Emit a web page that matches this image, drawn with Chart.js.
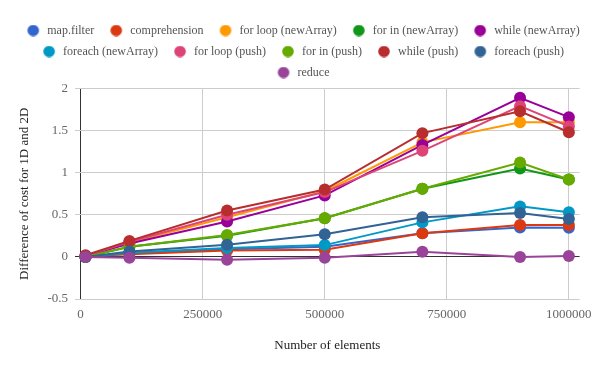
<!DOCTYPE html>
<html>
<head>
<meta charset="utf-8">
<script src="https://cdn.jsdelivr.net/npm/chart.js@4"></script>
<style>
  body { margin: 0; background: #fff; }
  #wrap { width: 600px; height: 371px; }
</style>
</head>
<body>
<div id="wrap"><canvas id="costChart" width="600" height="371"></canvas></div>
<script>
// Valores
const elements = [10000, 100000, 300000, 500000, 700000, 900000, 1000000];
const xTicks = [0, 250000, 500000, 750000, 1000000];

const mapFilter     = [0.00, 0.04, 0.09, 0.12, 0.28, 0.35, 0.345];
const comprehension = [0.01, 0.03, 0.075, 0.085, 0.28, 0.38, 0.38];
const forLoopNew    = [0.01, 0.17, 0.47, 0.78, 1.36, 1.60, 1.60];
const forInNew      = [0.00, 0.12, 0.25, 0.46, 0.81, 1.05, 0.92];
const whileNew      = [0.01, 0.16, 0.42, 0.73, 1.33, 1.89, 1.66];
const foreachNew    = [0.00, 0.05, 0.105, 0.14, 0.41, 0.60, 0.53];
const forLoopPush   = [0.01, 0.18, 0.50, 0.77, 1.26, 1.79, 1.55];
const forInPush     = [0.00, 0.12, 0.26, 0.46, 0.81, 1.12, 0.92];
const whilePush     = [0.02, 0.19, 0.55, 0.80, 1.47, 1.73, 1.48];
const foreachPush   = [0.00, 0.065, 0.145, 0.27, 0.47, 0.52, 0.45];
const reduceVals    = [0.00, -0.01, -0.035, -0.01, 0.06, 0.00, 0.01];

const seriesNames = ['map.filter', 'comprehension', 'for loop (newArray)', 'for in (newArray)', 'while (newArray)',
  'foreach (newArray)', 'for loop (push)', 'for in (push)', 'while (push)', 'foreach (push)', 'reduce'];
const seriesValues = [mapFilter, comprehension, forLoopNew, forInNew, whileNew,
  foreachNew, forLoopPush, forInPush, whilePush, foreachPush, reduceVals];
const colors = ['#3366cc', '#dc3912', '#ff9900', '#109618', '#990099',
  '#0099c6', '#dd4477', '#66aa00', '#b82e2e', '#316395', '#994499'];

const serif = "'Liberation Serif', 'Times New Roman', serif";

// bolinha da legenda (circulo deslocado para a direita do box)
function legendDot(color) {
    const c = document.createElement('canvas');
    c.width = 21; c.height = 12;
    const g = c.getContext('2d');
    g.fillStyle = color;
    g.beginPath();
    g.arc(13, 6, 5.8, 0, Math.PI * 2);
    g.fill();
    return c;
}
const dots = colors.map(legendDot);

// a legenda usa a largura toda do canvas (quebra e centralização)
const wideLegend = {
    id: 'wideLegend',
    beforeInit(chart) {
        const legend = chart.legend;
        const update = legend.update.bind(legend);
        legend.update = (w, h, margins) => update(chart.width, h, margins);
    },
    afterLayout(chart) {
        const legend = chart.legend;
        legend.left = 0;
        legend.right = chart.width;
        legend.width = chart.width;
    }
};

const datasets = seriesNames.map((name, i) => ({
    label: name,
    data: elements.map((x, j) => ({ x: x, y: seriesValues[i][j] })),
    borderColor: colors[i],
    backgroundColor: colors[i],
    borderWidth: 2,
    pointRadius: 6,
    pointHoverRadius: 6,
    pointBorderWidth: 0,
    tension: 0,
    order: -i
}));

const zeroColor = ctx => (ctx.tick && ctx.tick.value === 0) ? '#333' : '#ccc';

new Chart(document.getElementById('costChart'), {
    type: 'line',
    data: { datasets: datasets },
    plugins: [wideLegend],
    options: {
        responsive: false,
        animation: false,
        layout: { padding: { top: 15.5, right: 18, left: 0, bottom: 0 } },
        plugins: {
            legend: {
                position: 'top',
                labels: {
                    usePointStyle: true,
                    pointStyleWidth: 21,
                    boxHeight: 12,
                    padding: 9,
                    color: '#555',
                    font: { family: serif, size: 12 },
                    sort: (a, b) => a.datasetIndex - b.datasetIndex,
                    generateLabels(chart) {
                        const items = Chart.defaults.plugins.legend.labels.generateLabels(chart);
                        items.forEach(it => { it.pointStyle = dots[it.datasetIndex]; });
                        return items;
                    }
                }
            },
            tooltip: { enabled: false }
        },
        scales: {
            x: {
                type: 'linear',
                min: -11500,
                max: 1022000,
                afterBuildTicks: axis => { axis.ticks = xTicks.map(v => ({ value: v })); },
                afterFit: axis => { axis.height = 72; },
                grid: { color: zeroColor, drawTicks: false },
                border: { display: false },
                ticks: {
                    padding: 8,
                    color: '#666',
                    font: { family: serif, size: 13 },
                    callback: v => String(v)
                },
                title: {
                    display: true,
                    text: 'Number of elements',
                    color: '#222',
                    font: { family: serif, size: 13 },
                    padding: { top: 0, bottom: 18 }
                }
            },
            y: {
                min: -0.5,
                max: 2,
                afterFit: axis => { axis.width = 75; },
                grid: { color: zeroColor, drawTicks: false },
                border: { display: false },
                ticks: {
                    stepSize: 0.5,
                    padding: 7,
                    color: '#666',
                    font: { family: serif, size: 13 },
                    callback: v => String(v)
                },
                title: {
                    display: true,
                    text: 'Difference of cost for 1D and 2D',
                    color: '#222',
                    font: { family: serif, size: 13 },
                    padding: { top: 17, bottom: 0 }
                }
            }
        }
    }
});
</script>
</body>
</html>
